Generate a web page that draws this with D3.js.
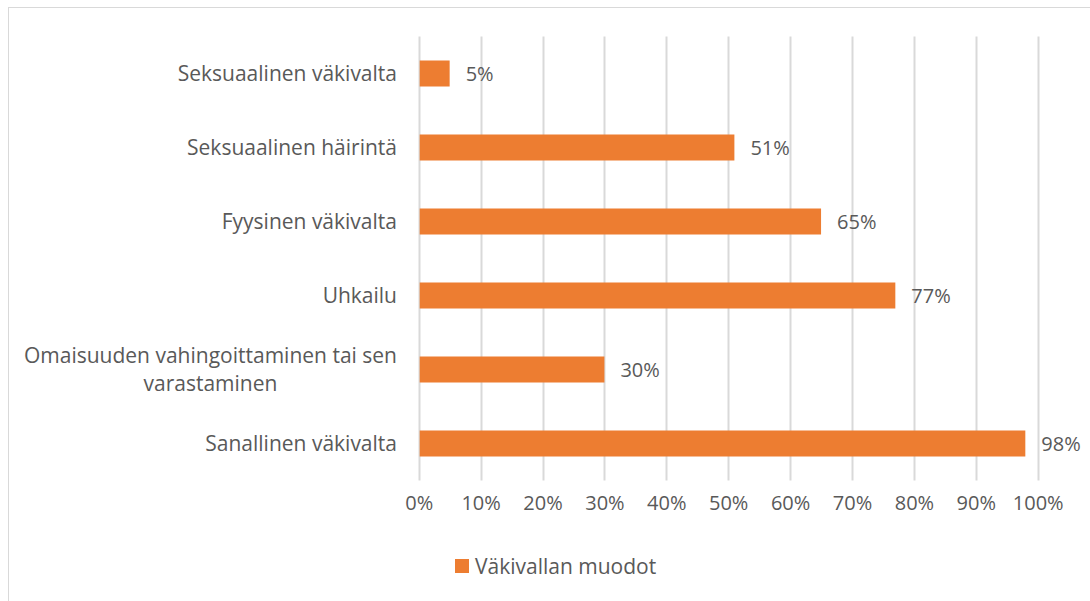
<!DOCTYPE html>
<html><head><meta charset="utf-8">
<script src="https://cdn.jsdelivr.net/npm/d3@7"></script>
<style>html,body{margin:0;padding:0;background:#fff;}svg{display:block;}</style>
</head><body>
<svg id="c" width="1090" height="601"></svg>
<script>
const categories = [
  ["Seksuaalinen väkivalta"],
  ["Seksuaalinen häirintä"],
  ["Fyysinen väkivalta"],
  ["Uhkailu"],
  ["Omaisuuden vahingoittaminen tai sen", "varastaminen"],
  ["Sanallinen väkivalta"]
];
const values = [0.05, 0.51, 0.65, 0.77, 0.30, 0.98];
const tickValues = [0,0.1,0.2,0.3,0.4,0.5,0.6,0.7,0.8,0.9,1.0];
const seriesName = "Väkivallan muodot";

const svg = d3.select("#c");
const font = "'Open Sans', sans-serif";
const txt = "#595959";
const barColor = "#ED7D31";

// chart border
svg.append("rect").attr("x",8.5).attr("y",7.5).attr("width",1100).attr("height",620)
  .attr("fill","none").attr("stroke","#d9d9d9").attr("stroke-width",1);

const x = d3.scaleLinear().domain([0,1]).range([418.7,1037.7]);
const idx = d3.range(categories.length);
const pi = 48/74;
const y = d3.scaleBand().domain(idx).range([36.5,480.5]).paddingInner(pi).paddingOuter(pi/2);

// gridlines
svg.append("g").selectAll("line").data(tickValues).join("line")
  .attr("x1",d=>Math.round(x(d))+0.5).attr("x2",d=>Math.round(x(d))+0.5)
  .attr("y1",36.5).attr("y2",480.5)
  .attr("stroke","#d9d9d9").attr("stroke-width",2);

// x axis labels
const xAxis = d3.axisBottom(x).tickValues(tickValues).tickFormat(d3.format(".0%")).tickSize(0).tickPadding(0);
const gx = svg.append("g").attr("transform","translate(0,496)").call(xAxis);
gx.select(".domain").remove();
gx.selectAll("text").attr("font-family",font).attr("font-size",20).attr("fill",txt).attr("dy","0.71em");

// bars
svg.append("g").selectAll("rect").data(idx).join("rect")
  .attr("x",x(0)+1).attr("y",d=>y(d))
  .attr("width",d=>x(values[d])-x(0)-1).attr("height",y.bandwidth())
  .attr("fill",barColor);

// value labels
svg.append("g").selectAll("text").data(idx).join("text")
  .attr("x",d=>x(values[d])+16).attr("y",d=>y(d)+y.bandwidth()/2)
  .attr("dy","0.36em")
  .attr("font-family",font).attr("font-size",20).attr("fill",txt)
  .text(d=>d3.format(".0%")(values[d]));

// category labels
const cfs = 21;
const cg = svg.append("g");
idx.forEach(i=>{
  const lines = categories[i];
  const cy = y(i)+y.bandwidth()/2;
  const lh = 28;
  const t = cg.append("text").attr("font-family",font).attr("font-size",cfs).attr("fill",txt);
  if (lines.length===1){
    t.attr("x",397).attr("y",cy).attr("dy","0.36em").attr("text-anchor","end").text(lines[0]);
  } else {
    const tmp = cg.append("text").attr("font-family",font).attr("font-size",cfs).text(lines[0]);
    const w = tmp.node().getComputedTextLength(); tmp.remove();
    const cx = 397 - w/2;
    lines.forEach((l,k)=>{
      t.append("tspan").attr("x",cx).attr("y",cy+(k-(lines.length-1)/2)*lh).attr("dy","0.36em")
        .attr("text-anchor","middle").text(l);
    });
  }
});

// legend
svg.append("rect").attr("x",455).attr("y",559).attr("width",14).attr("height",14).attr("fill",barColor);
svg.append("text").attr("x",475).attr("y",566).attr("dy","0.36em")
  .attr("font-family",font).attr("font-size",21).attr("fill",txt).text(seriesName);
</script>
</body></html>
